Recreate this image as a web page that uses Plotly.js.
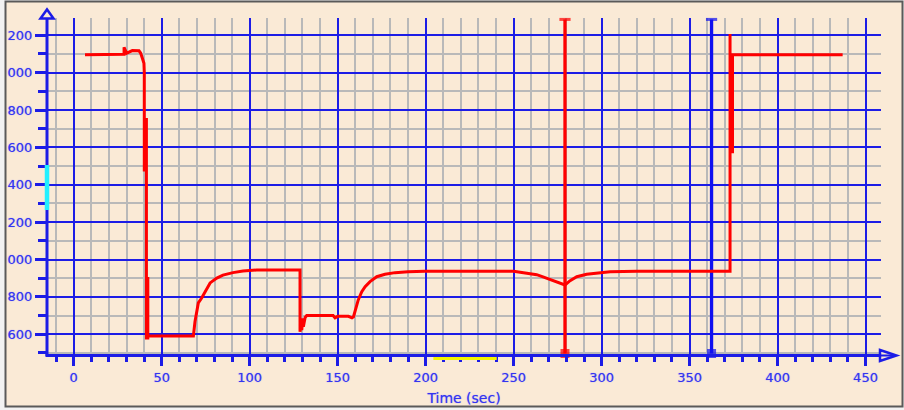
<!DOCTYPE html>
<html>
<head>
<meta charset="utf-8">
<script src="https://cdn.plot.ly/plotly-3.0.1.min.js"></script>
<style>html,body{margin:0;padding:0;background:#f2f2f2;}#chart{width:904px;height:410px;}</style>
</head>
<body>
<div id="chart"></div>
<script>
// ---- data ----
const timeSec = [6.4, 28.6, 28.6, 29.4, 30.1, 31.4, 33.3, 37.1, 38.0, 39.0, 39.9,
  40.1, 40.1, 41.3, 41.3, 41.3, 42.1, 42.1, 42.1, 43.0,
  68.0, 68.9, 70.8, 72.7, 74.6, 77.5, 81.3, 84.8, 90.5, 96.2, 104.0,
  128.6, 128.6, 129.3, 129.6, 130.2, 130.5, 131.0, 131.5, 132.4,
  140.0, 147.4, 148.5, 150.0, 156.1, 158.1, 159.0,
  159.9, 161.7, 163.7, 165.6, 168.4, 172.2, 176.9, 182.6, 190.0, 199.6,
  250.0, 253.6, 263.1, 266.7, 272.4, 277.3, 279.2,
  282.1, 285.9, 291.5, 299.1, 304.8, 320.0,
  373.0, 373.0, 373.0, 374.4, 374.4, 437.0];
const signal = [2096, 2098, 2136, 2120, 2104, 2110, 2118, 2117, 2105, 2077, 2050,
  2000, 1479, 1479, 1757, 580, 580, 907, 591, 591,
  591, 667, 768, 794, 828, 875, 901, 917, 930, 939, 944,
  944, 614, 660, 623, 686, 640, 667, 690, 700,
  700, 700, 688, 696, 696, 688, 694,
  721, 784, 828, 855, 882, 908, 921, 930, 935, 937,
  937, 932, 919, 907, 887, 873, 864,
  887, 908, 921, 930, 935, 937,
  937, 2207, 1577, 1577, 2096, 2096];

const cursorX = [279.2, 362.5];
const cursorColors = ['#ff0000', '#1010f0'];
const cursorTop = 2285;
const cursorBottom = 497;

const cyanRange = [1265, 1506];      // marker on the value axis
const yellowRange = [204.4, 240.4];  // marker on the time axis

const xTick0 = 0, xTickStep = 50, xMinorStep = 10;
const yTickVals = [600, 800, 1000, 1200, 1400, 1600, 1800, 2000, 2200];
const yTickText = ['600', '800', '000', '200', '400', '600', '800', '000', '200'];
const yMinorStep = 100;
const xLabel = 'Time (sec)';

// ---- colours / geometry ----
const BLUE = '#1c1ce6';
const LBL = '#3434ee';
const GRAY = '#b9b9b9';
const BG = '#faead6';
const L = 47, T = 18, PW = 834, PH = 337;
const px = v => (v - L) / PW;          // pixel x -> paper
const py = v => (T + PH - v) / PH;     // pixel y -> paper

const traces = [];
cursorX.forEach((cx, i) => {
  traces.push({
    x: [cx, cx], y: [cursorTop, cursorBottom], type: 'scatter', mode: 'lines',
    line: {color: cursorColors[i], width: 3.3}, hoverinfo: 'skip', showlegend: false
  });
  traces.push({
    x: [cx, cx], y: [cursorTop, cursorBottom], type: 'scatter', mode: 'markers',
    cliponaxis: false,
    marker: {symbol: ['line-ew', 'square'], size: [8, 6], color: cursorColors[i],
             line: {color: cursorColors[i], width: 3}},
    hoverinfo: 'skip', showlegend: false
  });
});
traces.push({
  x: timeSec, y: signal, type: 'scatter', mode: 'lines',
  line: {color: '#ff0000', width: 3}, hoverinfo: 'skip', showlegend: false
});

const font = {family: 'DejaVu Sans, Verdana, sans-serif', size: 13, color: LBL,
              shadow: '0px 0px 1px #7a7aff'};

const shapes = [
  // outer frame
  {type: 'rect', xref: 'paper', yref: 'paper', x0: px(5.5), x1: px(902.5), y0: py(406.5), y1: py(1.5),
   fillcolor: BG, line: {color: '#5a5a5a', width: 2}, layer: 'below'},
  // y axis line
  {type: 'line', xref: 'paper', yref: 'paper', x0: 0, x1: 0, y0: py(356), y1: py(18),
   line: {color: BLUE, width: 3}},
  // x axis line
  {type: 'line', xref: 'paper', yref: 'paper', x0: px(45.5), x1: px(896), y0: py(355.5), y1: py(355.5),
   line: {color: BLUE, width: 3}},
  // y arrow
  {type: 'path', xref: 'paper', yref: 'paper',
   path: `M ${px(40.5)} ${py(18.5)} L ${px(47)} ${py(9.5)} L ${px(53.5)} ${py(18.5)} Z`,
   fillcolor: BG, line: {color: BLUE, width: 2.5}},
  // x arrow
  {type: 'path', xref: 'paper', yref: 'paper',
   path: `M ${px(880)} ${py(350)} L ${px(896.5)} ${py(355.5)} L ${px(880)} ${py(361)} Z`,
   fillcolor: BG, line: {color: BLUE, width: 2.5}},
  {type: 'line', xref: 'paper', yref: 'paper', x0: px(880), x1: px(896), y0: py(355.5), y1: py(355.5),
   line: {color: BLUE, width: 2}},
  // cyan marker on y axis
  {type: 'line', xref: 'paper', yref: 'y', x0: 0, x1: 0, y0: cyanRange[0], y1: cyanRange[1],
   line: {color: '#22f0ff', width: 4.5}},
  // yellow marker under x axis
  {type: 'line', xref: 'x', yref: 'paper', x0: yellowRange[0], x1: yellowRange[1], y0: py(358.5), y1: py(358.5),
   line: {color: '#f4f400', width: 3}}
];

const layout = {
  width: 904, height: 410,
  margin: {l: L, r: 904 - L - PW, t: T, b: 410 - T - PH, pad: 0},
  paper_bgcolor: '#f2f2f2', plot_bgcolor: BG,
  showlegend: false,
  font: font,
  xaxis: {
    range: [-15.2, 458.8], tickmode: 'linear', tick0: xTick0, dtick: xTickStep,
    ticks: 'outside', ticklen: 10, tickwidth: 3, tickcolor: BLUE,
    showgrid: true, gridcolor: BLUE, gridwidth: 2, zeroline: false, showline: false,
    tickfont: font,
    minor: {tickmode: 'linear', tick0: 0, dtick: xMinorStep, ticks: 'outside', ticklen: 6, tickwidth: 3,
            tickcolor: BLUE, showgrid: true, gridcolor: GRAY, gridwidth: 2},
    title: {text: xLabel, font: {family: font.family, size: 14, color: LBL, shadow: font.shadow}, standoff: 9}
  },
  yaxis: {
    range: [489.2, 2292.6], tickmode: 'array', tickvals: yTickVals, ticktext: yTickText,
    ticks: 'outside', ticklen: 11, tickwidth: 3, tickcolor: BLUE,
    showgrid: true, gridcolor: BLUE, gridwidth: 2, zeroline: false, showline: false,
    tickfont: font,
    minor: {tickmode: 'linear', tick0: 0, dtick: yMinorStep, ticks: 'outside', ticklen: 8, tickwidth: 3,
            tickcolor: BLUE, showgrid: true, gridcolor: GRAY, gridwidth: 2}
  },
  shapes: shapes
};

Plotly.newPlot('chart', traces, layout, {staticPlot: true, displayModeBar: false});
</script>
</body>
</html>
